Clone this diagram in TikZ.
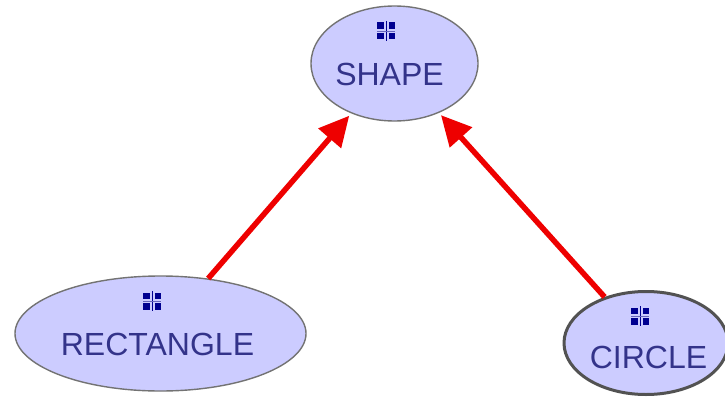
\documentclass[tikz,border=0pt]{standalone}
\usepackage{fontspec}
\setmainfont{Liberation Sans}
\usetikzlibrary{shapes.geometric,arrows.meta}
\definecolor{nodefill}{HTML}{CCCCFF}
\definecolor{labelink}{HTML}{33338A}
\definecolor{iconink}{HTML}{000090}
\definecolor{edgered}{HTML}{EE0000}
\tikzset{
  classnode/.style={ellipse,draw=black!55,line width=1.4pt,fill=nodefill,inner sep=0pt},
  selectednode/.style={classnode,draw=black!68,line width=3pt},
  classlabel/.style={text=labelink,font=\fontsize{32}{34}\selectfont,inner sep=0pt,anchor=center},
  inherit/.style={draw=edgered,line width=5.5pt,-{Triangle[length=30pt,width=29pt]},shorten >=3pt},
  icon/.pic={
    \fill[iconink] (-9,-8.5) rectangle (-2.5,-2);
    \fill[iconink] (2.5,-8.5) rectangle (9,-2);
    \fill[iconink] (-9,2) rectangle (-2.5,8.5);
    \fill[iconink] (2.5,2) rectangle (9,8.5);
    \draw[iconink,line width=1pt] (0,-10) -- (0,10);
    \draw[iconink!60,line width=.8pt] (-9,0) -- (9,0);
  }
}
\begin{document}
\begin{tikzpicture}[x=1pt,y=-1pt]
\useasboundingbox (0,0) rectangle (725,396);
\fill[white] (0,0) rectangle (725,396);
\clip (0,0) rectangle (725,396);
\node[classnode,minimum width=167pt,minimum height=115pt] (shape) at (394.5,63.5) {};
\node[classnode,minimum width=291pt,minimum height=115pt] (rect) at (160.5,333.5) {};
\node[selectednode,minimum width=164pt,minimum height=103pt] (circ) at (646,343) {};
\draw[inherit] (rect) -- (shape);
\draw[inherit] (circ) -- (shape);
\pic at (386,31) {icon};
\pic at (152,301) {icon};
\pic at (640,316) {icon};
\node[classlabel] (shapelabel) at (389.5,74) {SHAPE};
\node[classlabel] (rectlabel) at (157.5,344) {RECTANGLE};
\node[classlabel] (circlabel) at (648.5,357) {CIRCLE};
\end{tikzpicture}
\end{document}
